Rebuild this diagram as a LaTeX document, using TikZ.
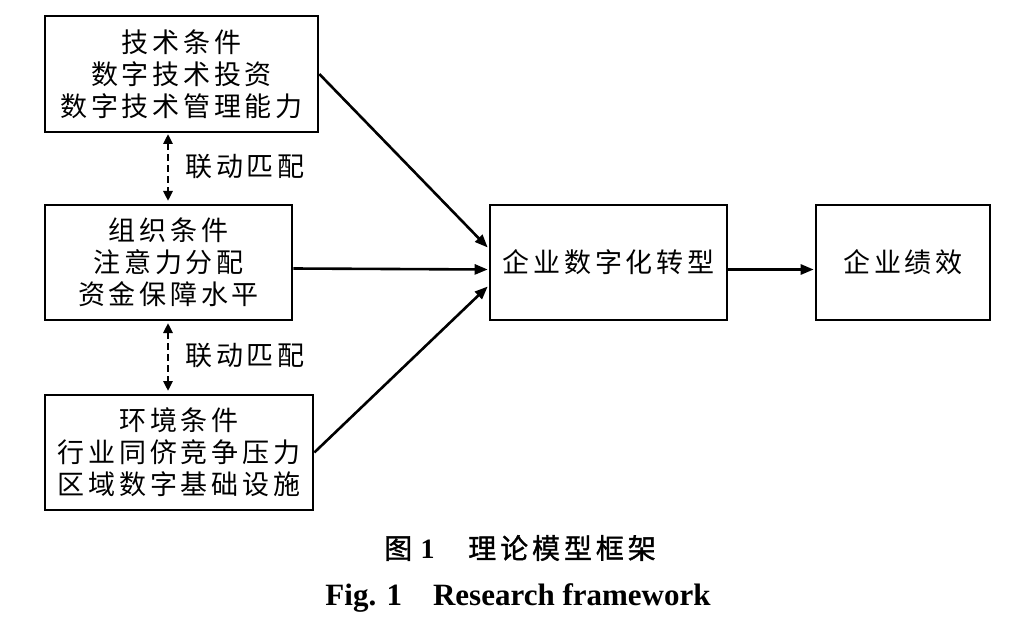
\documentclass[tikz,border=0pt]{standalone}
\usepackage{fontspec}
\setmainfont{Liberation Serif}
\newfontfamily\cjk[LetterSpace=14]{Noto Sans CJK SC}
\newfontfamily\cjkcap[LetterSpace=14,FakeBold=1.2]{Noto Sans CJK SC}
\usetikzlibrary{arrows.meta,calc}
\begin{document}
\begin{tikzpicture}[x=1pt,y=-1pt,
  box/.style={draw,line width=2.6pt,inner sep=0pt,minimum height=115pt,align=center,
    font=\cjk\fontsize{27}{32}\selectfont},
  arr/.style={line width=2.6pt,-{Triangle[length=13pt,width=10pt]}},
  darr/.style={line width=2.6pt,dash pattern=on 7pt off 4pt,{Triangle[length=10pt,width=9pt]}-{Triangle[length=10pt,width=9pt]}},
  lbl/.style={font=\cjk\fontsize{27}{32}\selectfont}]
\useasboundingbox (0,0) rectangle (1024,636);
\node[box,minimum width=273pt,minimum height=116pt] (b1) at (181.5,74) {技术条件\\数字技术投资\\数字技术管理能力};
\node[box,minimum width=247pt] (b2) at (168.5,262.5) {组织条件\\注意力分配\\资金保障水平};
\node[box,minimum width=268pt] (b3) at (179,452.5) {环境条件\\行业同侪竞争压力\\区域数字基础设施};
\node[box,minimum width=237pt] (c) at (608.5,262.5) {企业数字化转型};
\node[box,minimum width=174pt] (r) at (903,262.5) {企业绩效};
\coordinate (t1) at (168,134);
\coordinate (t2) at (168,201);
\coordinate (t3) at (168,323);
\coordinate (t4) at (168,391);
\draw[darr] (t1) -- (t2);
\draw[darr] (t3) -- (t4);
\node[lbl] (l1) at (245,167) {联动匹配};
\node[lbl] (l2) at (245,356) {联动匹配};
\draw[arr] (b1.east) -- ($(c.west)+(-1,-15)$);
\draw[arr] ($(b2.east)+(0,6)$) -- ($(c.west)+(-1,7)$);
\draw[arr] (b3.east) -- ($(c.west)+(-1,24)$);
\draw[arr] ($(c.east)+(0,7)$) -- ($(r.west)+(-1,7)$);
\node[font=\cjkcap\fontsize{28}{32}\selectfont] (cap1) at (520,548) {图\hspace{0.3em}{\rmfamily\bfseries 1}\hspace{1.2em}理论模型框架};
\node[font=\bfseries\fontsize{31}{34}\selectfont] (cap2) at (518,598) {Fig. 1\hspace{1em}Research framework};
\end{tikzpicture}
\end{document}
